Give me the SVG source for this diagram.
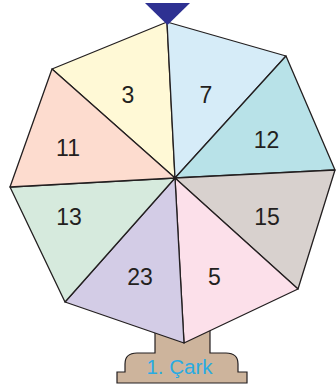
<svg xmlns="http://www.w3.org/2000/svg" width="336" height="389" viewBox="0 0 336 389">
<style>
.seg{stroke:#231F20;stroke-width:1.3;stroke-linejoin:round}
.lbl{font-family:"Liberation Sans",Arial,sans-serif;font-size:23px;fill:#231F20;text-anchor:middle}
</style>
<rect width="336" height="389" fill="#fff"/>
<g id="stand">
<path d="M155,330 L155,353 L137,353 Q125,353 125,364 L125,372 L117,372 L117,383 L247,383 L247,372 L238,372 L238,364 Q238,353 226,353 L210,353 L210,330 Z" fill="#CDB49C" stroke="#231F20" stroke-width="1.2"/>
<text x="179.5" y="374" font-family="'Liberation Sans',Arial,sans-serif" font-size="20.5" fill="#29ABE2" text-anchor="middle">1. Çark</text>
</g>
<g id="wheel">
<g id="s3"><path class="seg" d="M175,178 L167,22 L52,69 Z" fill="#FFF9D6"/><text class="lbl" x="128" y="103">3</text></g>
<g id="s7"><path class="seg" d="M175,178 L286,56 L167,22 Z" fill="#D6ECF8"/><text class="lbl" x="206" y="103">7</text></g>
<g id="s12"><path class="seg" d="M175,178 L335,170 L286,56 Z" fill="#B8E2E8"/><text class="lbl" x="266.5" y="148">12</text></g>
<g id="s15"><path class="seg" d="M175,178 L298,289 L335,170 Z" fill="#D8D1CE"/><text class="lbl" x="267" y="225">15</text></g>
<g id="s5"><path class="seg" d="M175,178 L184,343 L298,289 Z" fill="#FCE0EA"/><text class="lbl" x="214.5" y="285">5</text></g>
<g id="s23"><path class="seg" d="M175,178 L65,302 L184,343 Z" fill="#D3CCE6"/><text class="lbl" x="140" y="285">23</text></g>
<g id="s13"><path class="seg" d="M175,178 L10,187 L65,302 Z" fill="#D6EADD"/><text class="lbl" x="69" y="225">13</text></g>
<g id="s11"><path class="seg" d="M175,178 L52,69 L10,187 Z" fill="#FDDCCF"/><text class="lbl" x="68" y="156">11</text></g>
<circle cx="175" cy="178" r="1.8" fill="#231F20"/>
</g>
<g id="pointer"><polygon points="145,3 190,3 167.5,25" fill="#2E3192"/></g>
</svg>
